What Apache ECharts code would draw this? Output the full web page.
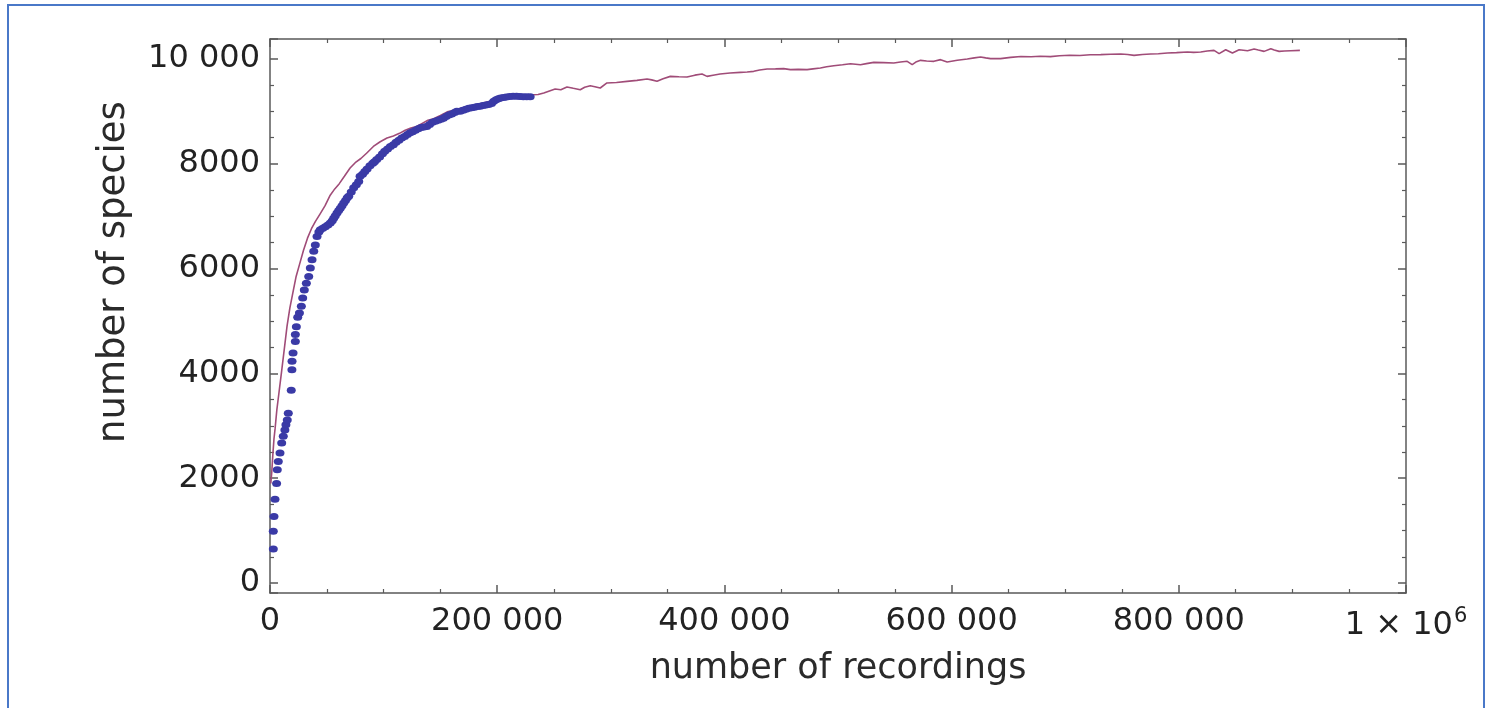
<!DOCTYPE html>
<html>
<head>
<meta charset="utf-8">
<script src="https://cdn.jsdelivr.net/npm/echarts@6/dist/echarts.min.js"></script>
<style>
  html, body { margin: 0; padding: 0; background: #fff; }
  #chart { width: 1487px; height: 708px; }
</style>
</head>
<body>
<div id="chart"></div>
<script>
// Species accumulation: observed recordings (dots) and fitted curve (line)
const xTitle = 'number of recordings';
const yTitle = 'number of species';

// observed data points [recordings, species]
const observedRecordings = [
  2900, 2900, 3500, 4400, 5800, 6400, 7300, 8800, 10300, 11700, 13100, 14000, 15200, 16100,
  18700, 19300, 19400, 20300, 22300, 22300, 23200, 24400, 25900, 27600, 28800, 30200, 32000,
  34100, 35500, 37000, 38500, 39900, 41400, 43000, 44300, 46500, 48700, 51000, 53100, 54800,
  56100, 57500, 59000, 60500, 61900, 63400, 64900, 66500, 68000, 69300, 71500, 73700, 76000,
  78100, 79300, 81500, 83500, 85500, 88000, 90500, 92000, 94000, 96500, 99000, 101000, 103500,
  106000, 108600, 111000, 113500, 116000, 118500, 121000, 123300, 125500, 128000, 130500, 133000,
  135500, 138000, 140500, 143000, 145500, 148000, 150500, 152700, 155000, 157500, 160000, 162500,
  164500, 167400, 170000, 172500, 175000, 177500, 180000, 182500, 185000, 187500, 190000, 192500,
  195000, 197000, 199000, 201000, 203000, 205500, 208000, 211000, 214000, 217000, 220000, 223000,
  226000, 229000
];
const observedSpecies = [
  650, 990, 1270, 1600, 1900, 2160, 2320, 2480, 2670, 2800, 2920, 3020, 3110, 3240,
  3680, 4070, 4230, 4390, 4610, 4740, 4890, 5070, 5150, 5280, 5440, 5590, 5720,
  5850, 6010, 6170, 6330, 6450, 6610, 6700, 6740, 6770, 6800, 6830, 6870, 6910,
  6960, 7010, 7060, 7110, 7150, 7200, 7250, 7300, 7350, 7380, 7460, 7540, 7600,
  7660, 7760, 7800, 7850, 7900, 7960, 8010, 8040, 8080, 8130, 8190, 8240, 8280,
  8330, 8360, 8410, 8450, 8490, 8520, 8560, 8590, 8610, 8640, 8670, 8690,
  8700, 8710, 8750, 8790, 8810, 8830, 8850, 8870, 8900, 8930, 8950, 8980,
  9000, 9000, 9020, 9040, 9060, 9070, 9080, 9090, 9095, 9110, 9120, 9130,
  9150, 9190, 9220, 9240, 9255, 9265, 9275, 9285, 9290, 9290, 9285, 9280,
  9280, 9280
];

// fitted curve [recordings, species]
const curveRecordings = [
  700, 1500, 2500, 3500, 4500, 6000, 8000, 10000, 12500, 15000, 17500, 20500, 23000, 26000,
  29500, 33000, 36500, 40000, 44000, 48500, 53000, 57000, 61000, 65500, 70500, 75000, 80000,
  85000, 91000, 97000, 103000, 108600, 114000, 119000, 124000, 129000, 134000, 139000, 144000,
  150000, 156000, 162000, 168000, 174000, 180000, 186000, 192000, 197000, 203000, 209000, 215000,
  221000, 226000, 231000, 236000, 241000, 246000, 251000, 256000, 261400, 267000, 273100, 277000,
  281900, 286000, 290700, 296600, 305000, 314300, 323000, 331900, 336000, 340700, 346000, 352400,
  360000, 367100, 374000, 380300, 384700, 390000, 396200, 405000, 414100, 420000, 425800, 431000,
  437600, 445000, 452200, 458100, 465000, 472800, 478000, 484500, 490000, 496300, 504000, 511000,
  519800, 525000, 531500, 540000, 549100, 555000, 560900, 565300, 568500, 572700, 578000, 584400,
  590300, 596100, 605000, 613800, 620000, 625500, 630000, 634300, 643100, 652000, 661000, 670000,
  678000, 687000, 695000, 704000, 713000, 722000, 731300, 740000, 748900, 755000, 760600, 768000,
  775300, 782000, 790000, 798000, 807600, 813000, 819300, 825000, 831000, 835500, 841300, 847200,
  853100, 860500, 866300, 870000, 875100, 881000, 884000, 888300, 893000, 898600, 906600
];
const curveSpecies = [
  1900, 2100, 2450, 2750, 2950, 3300, 3650, 4000, 4450, 4900, 5250, 5580, 5850, 6080,
  6350, 6580, 6760, 6900, 7040, 7200, 7400, 7520, 7620, 7760, 7920, 8020, 8100,
  8200, 8330, 8420, 8490, 8530, 8580, 8640, 8680, 8710, 8770, 8830, 8860,
  8920, 8990, 9020, 9060, 9090, 9110, 9150, 9180, 9220, 9240, 9260, 9270,
  9285, 9300, 9317, 9320, 9350, 9390, 9426, 9413, 9465, 9440, 9413, 9460,
  9489, 9470, 9445, 9541, 9550, 9572, 9590, 9617, 9600, 9572, 9620, 9667,
  9660, 9655, 9690, 9712, 9667, 9690, 9712, 9730, 9744, 9750, 9763, 9790,
  9808, 9810, 9814, 9795, 9800, 9795, 9810, 9827, 9850, 9871, 9890, 9909,
  9890, 9910, 9934, 9930, 9922, 9940, 9954, 9890, 9940, 9973, 9960, 9954,
  9986, 9942, 9975, 9999, 10020, 10037, 10020, 10005, 10005, 10030, 10045, 10040,
  10050, 10043, 10060, 10070, 10065, 10080, 10081, 10090, 10094, 10085, 10068, 10085,
  10094, 10100, 10113, 10120, 10132, 10125, 10132, 10150, 10163, 10100, 10176, 10113,
  10176, 10157, 10189, 10170, 10144, 10195, 10170, 10144, 10150, 10157, 10163
];

const observed = observedRecordings.map((x, i) => [x, observedSpecies[i]]);
const curve = curveRecordings.map((x, i) => [x, curveSpecies[i]]);

const frameColor = '#5a5a5a';
const labelFont = 'DejaVu Sans';

function tickLabel(v) {
  if (v === 1000000) return '{t|1 × 10}{s|6}';
  if (v >= 10000) return String(v).replace(/\B(?=(\d{3})+(?!\d))/g, ' ');
  return String(v);
}

const xBase = {
  type: 'value', min: 0, max: 1000000, interval: 200000,
  axisLine: { show: true, onZero: false, lineStyle: { color: frameColor, width: 1.5 } },
  axisTick: { show: true, inside: true, length: 8, lineStyle: { color: frameColor, width: 1.5 } },
  minorTick: { show: true, splitNumber: 4, length: 4, lineStyle: { color: frameColor, width: 1.2 } },
  splitLine: { show: false }
};
const yBase = {
  type: 'value', min: -190, max: 10380, splitNumber: 5,
  axisLine: { show: true, onZero: false, lineStyle: { color: frameColor, width: 1.5 } },
  axisTick: { show: true, inside: true, length: 8, lineStyle: { color: frameColor, width: 1.5 } },
  minorTick: { show: true, splitNumber: 4, length: 4, lineStyle: { color: frameColor, width: 1.2 } },
  splitLine: { show: false }
};

const chart = echarts.init(document.getElementById('chart'));
chart.setOption({
  backgroundColor: '#ffffff',
  animation: false,
  grid: { left: 270, top: 39, right: 81, bottom: 115, containLabel: false },
  xAxis: [
    Object.assign({}, xBase, {
      position: 'bottom',
      name: xTitle, nameLocation: 'middle', nameGap: 58,
      nameTextStyle: { fontFamily: labelFont, fontSize: 35, color: '#2a2a2a' },
      axisLabel: {
        show: true, margin: 13, formatter: tickLabel,
        fontFamily: labelFont, fontSize: 32, color: '#222',
        rich: {
          t: { fontFamily: labelFont, fontSize: 32, color: '#222' },
          s: { fontFamily: labelFont, fontSize: 21, color: '#222', verticalAlign: 'top', padding: [0, 0, 18, 1] }
        }
      }
    }),
    Object.assign({}, xBase, { position: 'top', axisLabel: { show: false } })
  ],
  yAxis: [
    Object.assign({}, yBase, {
      position: 'left',
      axisLabel: {
        show: true, margin: 10, formatter: tickLabel, showMinLabel: false, showMaxLabel: false,
        fontFamily: labelFont, fontSize: 32, color: '#222'
      }
    }),
    Object.assign({}, yBase, { position: 'right', axisLabel: { show: false } })
  ],
  graphic: [
    {
      type: 'rect', silent: true, z: -1,
      shape: { x: 8, y: 5, width: 1476, height: 712 },
      style: { fill: 'none', stroke: '#4a78c8', lineWidth: 2 }
    },
    {
      type: 'text', x: 114, y: 272, rotation: Math.PI / 2,
      style: {
        text: yTitle, fontFamily: labelFont, fontSize: 37, fill: '#2a2a2a',
        align: 'center', verticalAlign: 'middle'
      }
    }
  ],
  series: [
    {
      name: 'fit', type: 'line', xAxisIndex: 0, yAxisIndex: 0,
      data: curve, showSymbol: false, smooth: false, z: 2,
      lineStyle: { color: '#a04c78', width: 1.6 }
    },
    {
      name: 'observed', type: 'scatter', xAxisIndex: 0, yAxisIndex: 0,
      data: observed, symbol: 'circle', symbolSize: [9, 7], z: 3,
      itemStyle: { color: '#3a3aa6', opacity: 1 }
    }
  ]
});
</script>
</body>
</html>
